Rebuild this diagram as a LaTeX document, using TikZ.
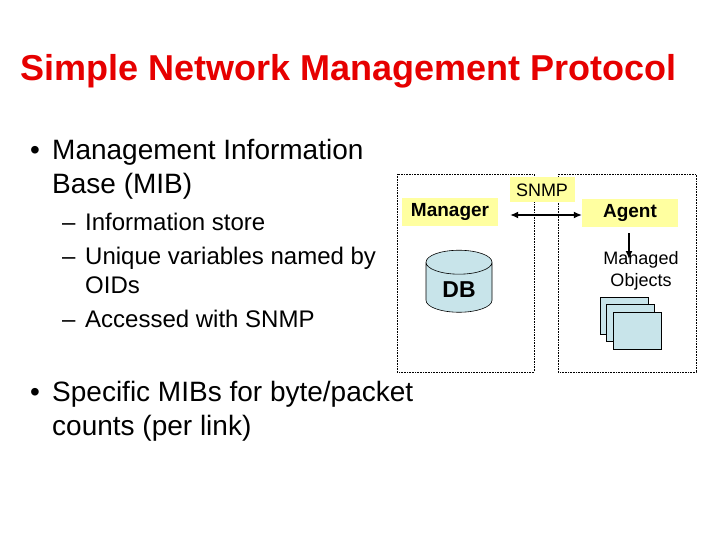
\documentclass[tikz,border=0pt]{standalone}
\usepackage{fontspec}
\setmainfont{Liberation Sans}
\usetikzlibrary{shapes.geometric,calc,arrows.meta}
\definecolor{ttl}{RGB}{230,0,0}
\definecolor{lbl}{RGB}{255,255,160}
\definecolor{obj}{RGB}{200,228,234}
\begin{document}
\begin{tikzpicture}[x=1pt,y=-1pt,
  box/.style={draw,densely dotted,line width=0.6pt},
  lab/.style={fill=lbl,minimum width=96pt,minimum height=28pt,font=\bfseries\fontsize{19}{22}\selectfont},
  page/.style={draw,fill=obj,line width=0.6pt},
  body/.style={anchor=base west,inner sep=0,font=\fontsize{28}{32}\selectfont},
  sub/.style={anchor=base west,inner sep=0,font=\fontsize{24}{28}\selectfont},
  tip/.style={Latex[length=8pt,width=7pt]},
  arr/.style={line width=1.3pt}]
\useasboundingbox (0,0) rectangle (720,540);
\node[anchor=base west,inner sep=0,text=ttl,font=\bfseries\fontsize{36}{40}\selectfont] (t) at (20,81) {Simple Network Management Protocol};
\node[body] (b1) at (30,160) {•};
\node[body] (l1) at (52,160) {Management Information};
\node[body] (l2) at (52,194) {Base (MIB)};
\node[sub] (d1) at (62,230) {–};
\node[sub] (s1) at (85,230) {Information store};
\node[sub] (d2) at (62,264) {–};
\node[sub] (s2) at (85,264) {Unique variables named by};
\node[sub] (s3) at (85,293) {OIDs};
\node[sub] (d3) at (62,327) {–};
\node[sub] (s4) at (85,327) {Accessed with SNMP};
\node[body] (b2) at (30,401) {•};
\node[body] (l3) at (52,401) {Specific MIBs for byte/packet};
\node[body] (l4) at (52,435) {counts (per link)};
\draw[box] (397,174) rectangle (534,372);
\draw[box] (558,174) rectangle (696,372);
\node[fill=lbl,minimum width=65pt,minimum height=25pt,font=\fontsize{18}{20}\selectfont] (snmp) at (542,190) {SNMP};
\node[lab] (mgr) at (450,212) {Manager};
\node[lab] (agt) at (630,213) {Agent};
\draw[arr,{Latex[length=8pt,width=7pt]}-{Latex[length=8pt,width=7pt]}] ($(mgr.east)+(12,3)$) -- ($(agt.west)+(0,2)$);
\node[cylinder,shape border rotate=90,aspect=0.6,draw,fill=obj,line width=0.6pt,minimum width=66pt,minimum height=62pt,font=\bfseries\fontsize{23}{26}\selectfont] (db) at (459,290) {DB};
\draw[page] (600,297) rectangle (648,334);
\draw[page] (606,304) rectangle (654,341);
\draw[page] (613,312) rectangle (661,349);
\node[align=center,font=\fontsize{18}{22}\selectfont,inner sep=0] (mo) at (641,271) {Managed\\Objects};
\draw[arr,-{Latex[length=8pt,width=7pt]}] ($(agt.south)+(-1,6)$) -- (629,259);
\end{tikzpicture}
\end{document}
